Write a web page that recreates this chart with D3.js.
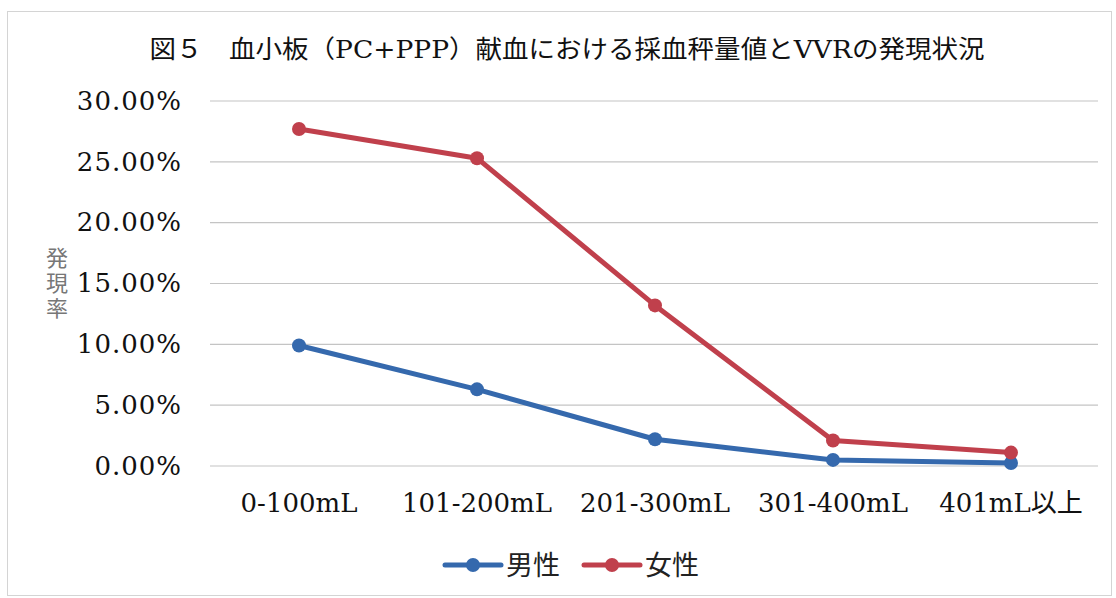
<!DOCTYPE html>
<html><head><meta charset="utf-8">
<script src="https://cdn.jsdelivr.net/npm/d3@7"></script>
<style>body{margin:0;background:#fff}svg{display:block}</style>
</head><body>
<svg id="c" width="1116" height="598"></svg>
<script>
const categories = ["0-100mL","101-200mL","201-300mL","301-400mL","401mL以上"];
const male = [9.9, 6.3, 2.2, 0.5, 0.25];
const female = [27.7, 25.3, 13.2, 2.1, 1.1];
const yTicks = [0,5,10,15,20,25,30];
const seriesNames = ["男性","女性"];
const colors = ["#3569ad","#c0404c"];

const svg = d3.select("#c");
const serif = "'DejaVu Serif','Noto Sans CJK JP',serif";
const cjk = "'Noto Sans CJK JP',sans-serif";

svg.append("rect").attr("x",7.5).attr("y",11.5).attr("width",1104).attr("height",584)
  .attr("fill","#fff").attr("stroke","#d4d4d4");

svg.append("text").attr("x",567).attr("y",58).attr("text-anchor","middle")
  .attr("font-family",serif).attr("font-size",25).attr("font-weight","normal").attr("fill","#111")
  .attr("textLength",835).attr("lengthAdjust","spacingAndGlyphs")
  .text("図５　血小板（PC+PPP）献血における採血秤量値とVVRの発現状況");

const x = d3.scaleBand().domain(categories).range([210,1100]);
const y = d3.scaleLinear().domain([0,30]).range([466,101]);

const grid = svg.append("g");
grid.selectAll("line").data(yTicks).join("line")
  .attr("x1",210).attr("x2",1098).attr("y1",d=>y(d)).attr("y2",d=>y(d))
  .attr("stroke","#c4c4c4").attr("stroke-width",1.2);

const yAxis = svg.append("g").attr("transform","translate(200,0)")
  .call(d3.axisLeft(y).tickValues(yTicks).tickSize(0).tickPadding(0).tickFormat(d=>d.toFixed(2)+"%"));
yAxis.select(".domain").remove();
yAxis.selectAll("text").attr("x",-18).attr("font-family",serif).attr("font-size",26)
  .attr("letter-spacing",1).attr("fill","#111");

const xAxis = svg.append("g").attr("transform","translate(0,466)")
  .call(d3.axisBottom(x).tickSize(0).tickPadding(0));
xAxis.select(".domain").remove();
xAxis.selectAll("text").attr("y",46).attr("dy",0).attr("font-family",serif).attr("font-size",26).attr("fill","#111");

svg.append("text").attr("x",57).attr("y",247).attr("font-family",cjk).attr("font-size",22)
  .attr("fill","#777").attr("writing-mode","vertical-rl").attr("letter-spacing",3)
  .style("writing-mode","vertical-rl").text("発現率");

const line = d3.line().x((d,i)=>x(categories[i])+x.bandwidth()/2).y(d=>y(d));
[male,female].forEach((s,k)=>{
  svg.append("path").datum(s).attr("d",line).attr("fill","none")
    .attr("stroke",colors[k]).attr("stroke-width",5).attr("stroke-linejoin","round");
  svg.append("g").selectAll("circle").data(s).join("circle")
    .attr("cx",(d,i)=>x(categories[i])+x.bandwidth()/2).attr("cy",d=>y(d)).attr("r",7)
    .attr("fill",colors[k]);
});

const lg = svg.append("g");
const lx = [445, 584];
seriesNames.forEach((n,k)=>{
  lg.append("line").attr("x1",lx[k]).attr("x2",lx[k]+56).attr("y1",565).attr("y2",565)
    .attr("stroke",colors[k]).attr("stroke-width",5).attr("stroke-linecap","round");
  lg.append("circle").attr("cx",lx[k]+28).attr("cy",565).attr("r",7).attr("fill",colors[k]);
  lg.append("text").attr("x",lx[k]+61).attr("y",575).attr("font-family",cjk).attr("font-size",27)
    .attr("fill","#222").text(n);
});
</script>
</body></html>
